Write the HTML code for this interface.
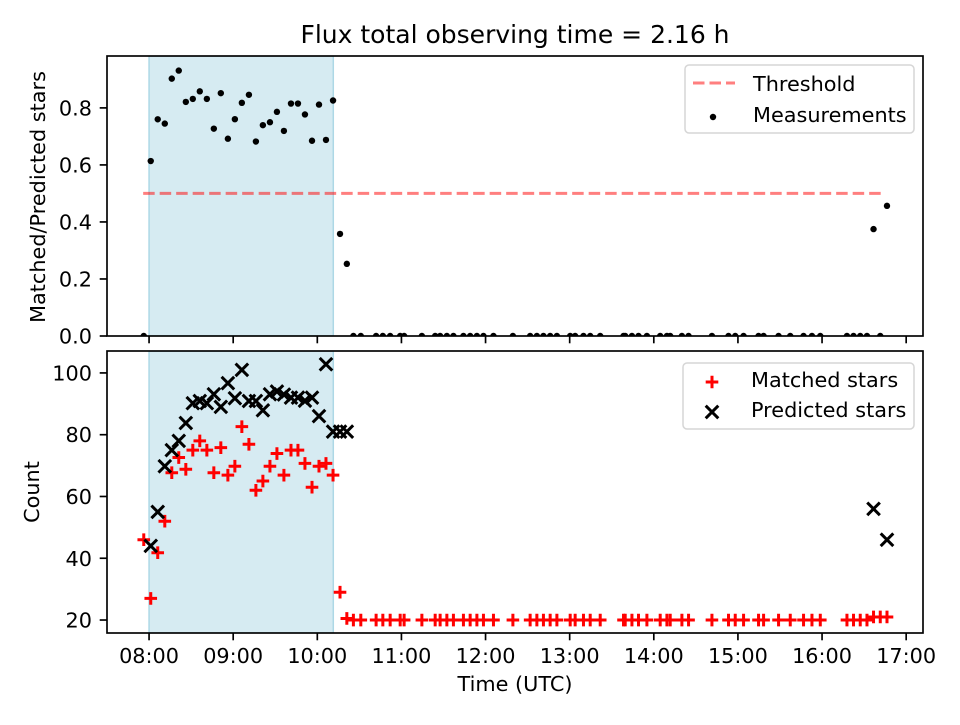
<!DOCTYPE html>
<html><head><meta charset="utf-8"><style>
body{margin:0;background:#fff}
svg text{font-family:"DejaVu Sans","Liberation Sans",sans-serif;fill:#000}
</style></head><body>
<svg id="chart" width="960" height="720" xmlns="http://www.w3.org/2000/svg"></svg>
<script>
const times = [7.937,8.020,8.103,8.187,8.270,8.353,8.437,8.520,8.603,8.687,8.770,8.853,8.937,9.020,9.103,9.187,9.270,9.353,9.437,9.520,9.603,9.687,9.770,9.853,9.937,10.020,10.103,10.187,10.270,10.351,
10.429,10.517,10.699,10.779,10.866,10.985,11.032,11.243,11.401,11.460,11.540,11.618,11.737,11.817,11.897,11.975,12.094,12.325,12.530,12.610,12.688,12.768,12.848,13.006,13.065,13.164,13.244,13.363,13.640,13.660,13.740,13.818,13.918,14.076,14.156,14.195,14.334,14.413,14.691,14.888,14.968,15.067,15.245,15.305,15.483,15.622,15.780,15.880,15.979,16.296,16.374,16.454,16.534,16.612,16.692,16.772];
const matched = [46,27,41.8,52,67.7,72.6,68.8,75,78,75,67.7,75.8,66.9,69.8,82.6,76.9,62,65,69.8,73.9,66.9,75,75,70.7,63,69.8,70.7,66.9,29,20.5,
20,20,20,20,20,20,20,20,20,20,20,20,20,20,20,20,20,20,20,20,20,20,20,20,20,20,20,20,20,20,20,20,20,20,20,20,20,20,20,20,20,20,20,20,20,20,20,20,20,20,20,20,20,21,21,21];
const predicted = [0,44,55,69.8,75,78,83.8,90.2,90.9,90.2,93.1,89,96.7,91.8,101,90.9,90.9,87.9,93.1,94,93,92,92,91,92,86,102.8,81,81,81,
0,0,0,0,0,0,0,0,0,0,0,0,0,0,0,0,0,0,0,0,0,0,0,0,0,0,0,0,0,0,0,0,0,0,0,0,0,0,0,0,0,0,0,0,0,0,0,0,0,0,0,0,0,56,0,46];
const xTicks = [8,9,10,11,12,13,14,15,16,17];
const xTickLabels = ["08:00","09:00","10:00","11:00","12:00","13:00","14:00","15:00","16:00","17:00"];
const topTicks = [0,0.2,0.4,0.6,0.8];
const botTicks = [20,40,60,80,100];
const shade = [8.0,10.19];
const threshold = 0.5, thrRange=[7.93,16.74];

const NS="http://www.w3.org/2000/svg";
const svg=document.getElementById('chart');
function el(tag,attrs,parent){const e=document.createElementNS(NS,tag);for(const k in attrs)e.setAttribute(k,attrs[k]);(parent||svg).appendChild(e);return e;}
const L=107,R=923;
const X=t=>L+(t-7.5)/(17.2-7.5)*(R-L);
const T={top:56,bot:336,min:0,max:0.982};
const B={top:351,bot:633,min:15.8,max:107.1};
const Yt=v=>T.bot-(v-T.min)/(T.max-T.min)*(T.bot-T.top);
const Yb=v=>B.bot-(v-B.min)/(B.max-B.min)*(B.bot-B.top);
const FS='20.8';

const defs=el('defs',{});
function clip(id,ax){const c=el('clipPath',{id},defs);el('rect',{x:L,y:ax.top,width:R-L,height:ax.bot-ax.top},c);}
clip('ct',T);clip('cb',B);

let t=el('text',{x:515,y:43,'text-anchor':'middle','font-size':'25'});t.textContent='Flux total observing time = 2.16 h';


// Top panel
const gT=el('g',{'clip-path':'url(#ct)'});

let r=el('rect',{x:X(shade[0]),y:T.top,width:X(shade[1])-X(shade[0]),height:T.bot-T.top,fill:'#add8e6','fill-opacity':0.5,stroke:'#add8e6','stroke-width':1.5},gT);

let th=el('line',{x1:X(thrRange[0]),x2:X(thrRange[1]),y1:Yt(threshold),y2:Yt(threshold),stroke:'#ff0000','stroke-opacity':0.5,'stroke-width':3,'stroke-dasharray':'11.5,5'},gT);

times.forEach((tt,i)=>{const v=predicted[i]>0?matched[i]/predicted[i]:0;
 const c=el('circle',{cx:X(tt),cy:Yt(v),r:3.2,fill:'#000'},gT);
 });

// Bottom panel
const gB=el('g',{'clip-path':'url(#cb)'});

r=el('rect',{x:X(shade[0]),y:B.top,width:X(shade[1])-X(shade[0]),height:B.bot-B.top,fill:'#add8e6','fill-opacity':0.5,stroke:'#add8e6','stroke-width':1.5},gB);

function plus(x,y,g,c){return el('path',{d:`M${x-6.3},${y}H${x+6.3}M${x},${y-6.3}V${y+6.3}`,stroke:c,'stroke-width':3,fill:'none'},g);}
function cross(x,y,g,c){return el('path',{d:`M${x-6.3},${y-6.3}L${x+6.3},${y+6.3}M${x-6.3},${y+6.3}L${x+6.3},${y-6.3}`,stroke:c,'stroke-width':3,fill:'none'},g);}
times.forEach((tt,i)=>{const p=plus(X(tt),Yb(matched[i]),gB,'#ff0000');
 });
times.forEach((tt,i)=>{const p=cross(X(tt),Yb(predicted[i]),gB,'#000');
 });

// axes frames & ticks
[[T,'top'],[B,'bottom']].forEach(([ax,n])=>{
 const f=el('rect',{x:L,y:ax.top,width:R-L,height:ax.bot-ax.top,fill:'none',stroke:'#000','stroke-width':1.67});
 
 xTicks.forEach(tt=>{el('line',{x1:X(tt),x2:X(tt),y1:ax.bot,y2:ax.bot+7.3,stroke:'#000','stroke-width':1.67});});
});
xTicks.forEach((tt,i)=>{const tx=el('text',{x:X(tt),y:663,'text-anchor':'middle','font-size':FS});tx.textContent=xTickLabels[i];
 });
topTicks.forEach(v=>{el('line',{x1:L-7.3,x2:L,y1:Yt(v),y2:Yt(v),stroke:'#000','stroke-width':1.67});
 const tx=el('text',{x:92,y:Yt(v)+7.5,'text-anchor':'end','font-size':FS});tx.textContent=v.toFixed(1);
 });
botTicks.forEach(v=>{el('line',{x1:L-7.3,x2:L,y1:Yb(v),y2:Yb(v),stroke:'#000','stroke-width':1.67});
 const tx=el('text',{x:92,y:Yb(v)+7.5,'text-anchor':'end','font-size':FS});tx.textContent=v;
 });

t=el('text',{x:515,y:691,'text-anchor':'middle','font-size':FS});t.textContent='Time (UTC)';

t=el('text',{x:45,y:197,'text-anchor':'middle','font-size':FS,transform:'rotate(-90 45 197)'});t.textContent='Matched/Predicted stars';

t=el('text',{x:39,y:492,'text-anchor':'middle','font-size':FS,transform:'rotate(-90 39 492)'});t.textContent='Count';


// legends
let lg=el('g',{});
el('rect',{x:685,y:65,width:229,height:68,rx:4,fill:'#fff','fill-opacity':0.8,stroke:'#d6d6d6','stroke-width':1.5},lg);
el('line',{x1:693,x2:735,y1:83,y2:83,stroke:'#ff0000','stroke-opacity':0.5,'stroke-width':3,'stroke-dasharray':'11.5,5'},lg);
el('text',{x:753,y:91,'font-size':FS},lg).textContent='Threshold';
el('circle',{cx:713,cy:117,r:3.2,fill:'#000'},lg);
el('text',{x:753,y:122,'font-size':FS},lg).textContent='Measurements';
lg=el('g',{});
el('rect',{x:683,y:363,width:231,height:66,rx:4,fill:'#fff','fill-opacity':0.8,stroke:'#d6d6d6','stroke-width':1.5},lg);
plus(712,382,lg,'#ff0000');
el('text',{x:751,y:387,'font-size':FS},lg).textContent='Matched stars';
cross(712,412,lg,'#000');
el('text',{x:751,y:417,'font-size':FS},lg).textContent='Predicted stars';
</script>
</body></html>
